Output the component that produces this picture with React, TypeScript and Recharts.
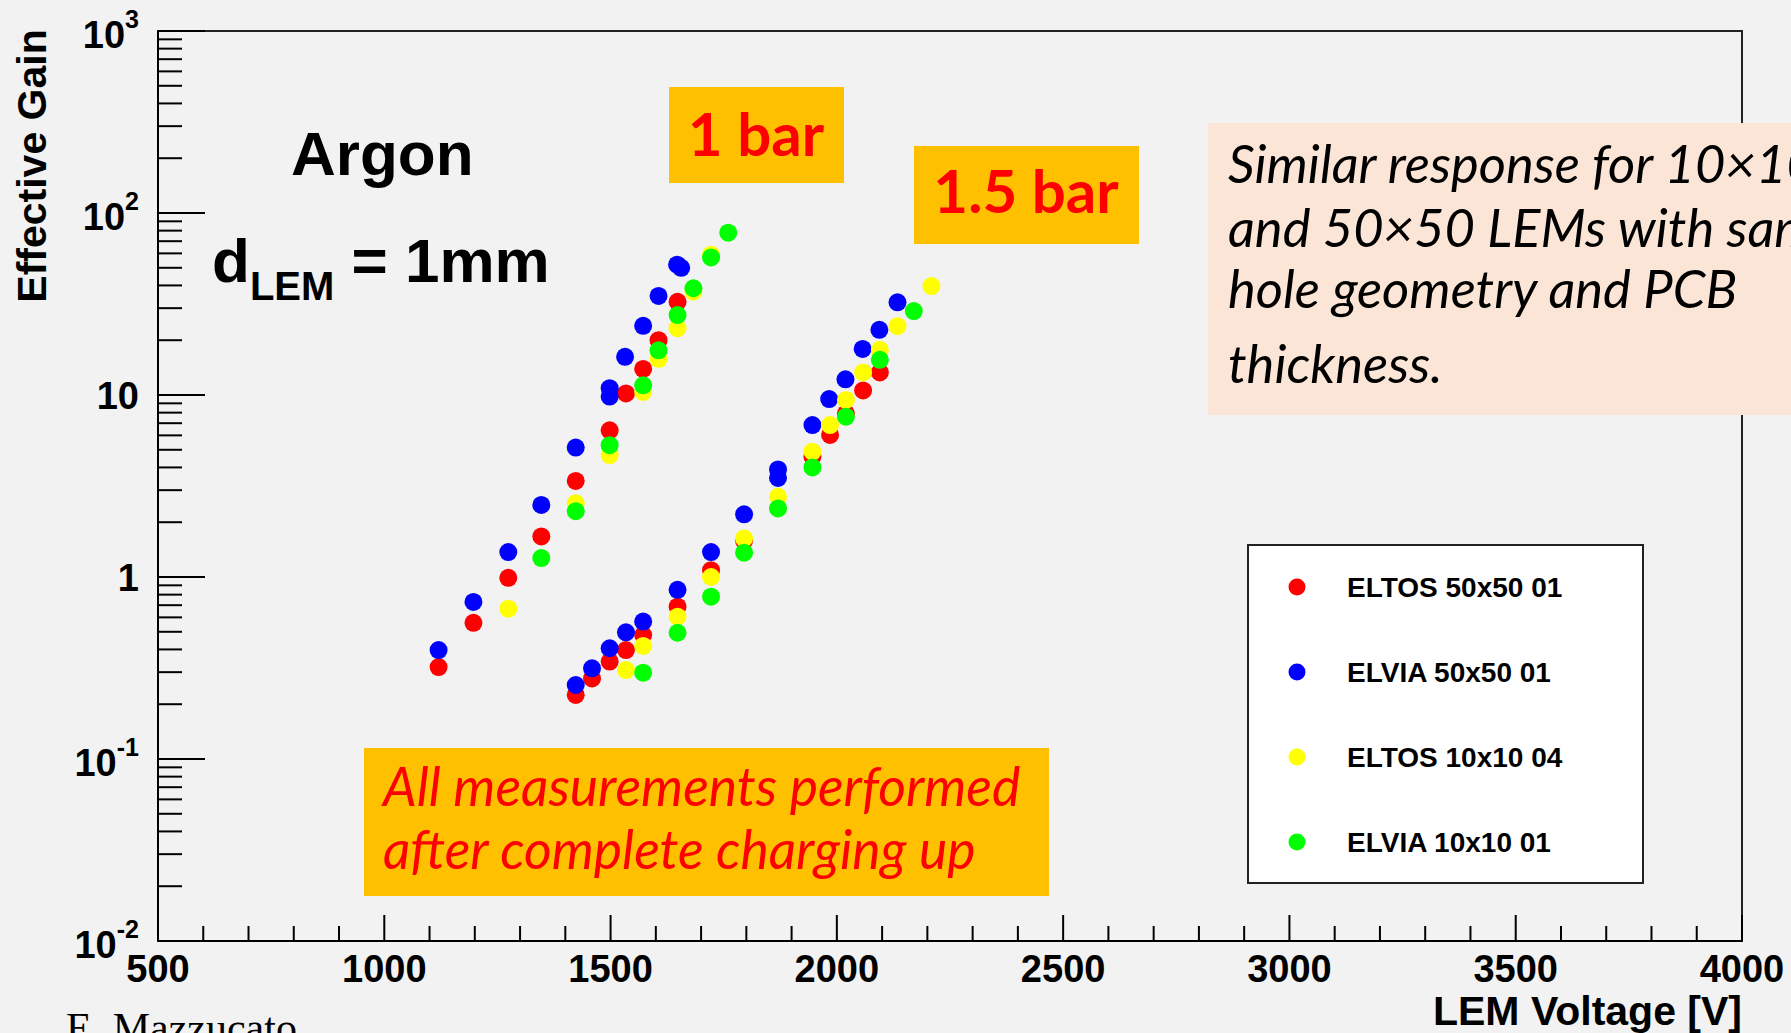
import { ScatterChart, Scatter, XAxis, YAxis, ReferenceArea } from 'recharts';

// LEM voltage [V], effective gain — both pressures (1 bar, then 1.5 bar) per LEM
const eltos5050: [number, number][] = [
  [1120, 0.32], [1197, 0.56], [1274, 0.99], [1347, 1.67], [1423, 3.37], [1498, 6.4], [1534, 10.2], [1572, 13.9], [1606, 20], [1648, 32.5],
  [1423, 0.225], [1459, 0.277], [1498, 0.343], [1534, 0.397], [1572, 0.48], [1648, 0.687], [1722, 1.09], [1795, 1.58], [1946, 4.6], [1985, 6.03], [2020, 7.9], [2058, 10.6], [2095, 13.3],
];
const elvia5050: [number, number][] = [
  [1120, 0.397], [1197, 0.73], [1274, 1.37], [1347, 2.49], [1423, 5.14], [1498, 9.8], [1498, 10.9], [1532, 16.2], [1572, 24], [1606, 35], [1647, 52], [1656, 50],
  [1423, 0.255], [1459, 0.315], [1498, 0.406], [1534, 0.497], [1572, 0.569], [1648, 0.85], [1722, 1.37], [1795, 2.21], [1870, 3.5], [1870, 3.9], [1946, 6.84], [1983, 9.5], [2019, 12.2], [2057, 17.9], [2094, 22.8], [2134, 32.3],
];
const eltos1010: [number, number][] = [
  [1274, 0.67], [1423, 2.54], [1498, 4.68], [1572, 10.4], [1606, 15.8], [1648, 23.3], [1683, 37], [1722, 59],
  [1534, 0.308], [1572, 0.418], [1648, 0.605], [1722, 1.0], [1795, 1.63], [1870, 2.76], [1946, 4.88], [1985, 6.84], [2020, 9.4], [2058, 13.3], [2095, 17.7], [2134, 23.9], [2209, 39.7],
];
const elvia1010: [number, number][] = [
  [1347, 1.27], [1423, 2.3], [1498, 5.3], [1572, 11.3], [1606, 17.6], [1648, 27.5], [1683, 38.6], [1722, 57], [1760, 78],
  [1572, 0.298], [1648, 0.494], [1722, 0.78], [1795, 1.36], [1870, 2.38], [1946, 4.0], [2020, 7.6], [2095, 15.6], [2170, 28.9],
];

const seriesNames = ['ELTOS 50x50 01', 'ELVIA 50x50 01', 'ELTOS 10x10 04', 'ELVIA 10x10 01'];
const seriesColors = ['#ff0000', '#0000ff', '#ffff00', '#00ff00'];
const seriesData = [eltos5050, elvia5050, eltos1010, elvia1010];

const xDomain = [500, 4000];
const xTicks = Array.from({ length: 36 }, (_, i) => 500 + i * 100);
const yDomain = [0.01, 1000];
// decade labels: base + exponent
const yDecades = [-2, -1, 0, 1, 2, 3];
const yDecadeLabels = [
  { base: '10', exp: '-2' },
  { base: '10', exp: '-1' },
  { base: '1', exp: '' },
  { base: '10', exp: '' },
  { base: '10', exp: '2' },
  { base: '10', exp: '3' },
];
const yTicks = yDecades.flatMap((e) =>
  e === 3 ? [1000] : [1, 2, 3, 4, 5, 6, 7, 8, 9].map((m) => m * Math.pow(10, e))
);

const W = 1791;
const H = 1033;
const AXIS_FONT = "'Liberation Sans', Arial, Helvetica, sans-serif";
const NOTE_FONT = "Lato, 'Open Sans', sans-serif";

function XTick({ x, y, payload }: any) {
  const v = payload.value;
  const major = v % 500 === 0;
  return (
    <g>
      <line x1={x} x2={x} y1={y} y2={y - (major ? 26 : 15)} stroke="#000" strokeWidth={2} />
      {major && (
        <text x={x} y={y + 41} textAnchor="middle" fontFamily={AXIS_FONT} fontWeight="bold" fontSize={38} fill="#000">
          {v}
        </text>
      )}
    </g>
  );
}

function YTick({ x, y, payload }: any) {
  const v = payload.value;
  const lg = Math.log10(v);
  const e = Math.round(lg);
  const major = Math.abs(lg - e) < 1e-6;
  const lab = major ? yDecadeLabels[yDecades.indexOf(e)] : null;
  return (
    <g>
      <line x1={x} x2={x + (major ? 47 : 24)} y1={y} y2={y} stroke="#000" strokeWidth={2} />
      {lab && (
        <text
          x={x - 19}
          y={y + (lab.exp ? 17 : 14)}
          textAnchor="end"
          fontFamily={AXIS_FONT}
          fontWeight="bold"
          fontSize={38}
          fill="#000"
        >
          {lab.base}
          {lab.exp && (
            <tspan dy={-20} fontSize={25}>
              {lab.exp}
            </tspan>
          )}
        </text>
      )}
    </g>
  );
}

export default function App() {
  return (
    <div style={{ position: 'fixed', left: 0, top: 0, width: W, height: H, background: '#f2f2f2', overflow: 'hidden' }}>
      <ScatterChart width={W} height={H} margin={{ top: 31, right: 49, bottom: 0, left: 0 }}>
        <XAxis
          type="number"
          dataKey="x"
          domain={xDomain}
          ticks={xTicks}
          interval={0}
          allowDataOverflow
          height={92}
          tickSize={0}
          tickMargin={0}
          tickLine={false}
          axisLine={{ stroke: '#000', strokeWidth: 2 }}
          tick={(p: any) => <XTick {...p} />}
        />
        <YAxis
          type="number"
          dataKey="y"
          scale="log"
          domain={yDomain}
          ticks={yTicks}
          interval={0}
          allowDataOverflow
          width={158}
          tickSize={0}
          tickMargin={0}
          tickLine={false}
          axisLine={{ stroke: '#000', strokeWidth: 2 }}
          tick={(p: any) => <YTick {...p} />}
        />
        <ReferenceArea x1={500} x2={4000} y1={0.01} y2={1000} fill="none" stroke="#222" strokeWidth={2} />
        {seriesData.map((pts, i) => (
          <Scatter
            key={seriesNames[i]}
            name={seriesNames[i]}
            data={pts.map(([x, y]) => ({ x, y }))}
            fill={seriesColors[i]}
            isAnimationActive={false}
            shape={(p: any) => <circle cx={p.cx} cy={p.cy} r={9} fill={seriesColors[i]} />}
          />
        ))}
      </ScatterChart>

      <svg width={W} height={H} style={{ position: 'absolute', left: 0, top: 0, pointerEvents: 'none' }}>
        {/* axis titles */}
        <text x={46} y={166} transform="rotate(-90 46 166)" textAnchor="middle" fontFamily={AXIS_FONT} fontWeight="bold" fontSize={41}>
          Effective Gain
        </text>
        <text x={1742} y={1025} textAnchor="end" fontFamily={AXIS_FONT} fontWeight="bold" fontSize={41}>
          LEM Voltage [V]
        </text>
        <text x={66} y={1042} fontFamily="'Liberation Serif', 'Times New Roman', serif" fontSize={42}>
          E. Mazzucato
        </text>

        {/* gas and gap */}
        <text x={291} y={175} fontFamily={AXIS_FONT} fontWeight="bold" fontSize={62}>
          Argon
        </text>
        <text x={212} y={282} fontFamily={AXIS_FONT} fontWeight="bold" fontSize={62}>
          d
          <tspan dy={18} fontSize={40}>LEM</tspan>
          <tspan dy={-18}> = 1mm</tspan>
        </text>

        {/* pressure tags */}
        <rect x={669} y={87} width={175} height={96} fill="#ffc000" />
        <text x={756} y={156} textAnchor="middle" fontFamily={NOTE_FONT} fontWeight="bold" fontSize={60} fill="#ff0000">
          1 bar
        </text>
        <rect x={914} y={146} width={225} height={98} fill="#ffc000" />
        <text x={1026} y={213} textAnchor="middle" fontFamily={NOTE_FONT} fontWeight="bold" fontSize={60} fill="#ff0000">
          1.5 bar
        </text>

        {/* comment box */}
        <rect x={1208} y={123} width={620} height={292} fill="#fbe5d6" />
        <g fontFamily={NOTE_FONT} fontStyle="italic" fontSize={52.5} fill="#000">
          <text x={1228} y={183}>Similar response for 10×10</text>
          <text x={1228} y={247}>and 50×50 LEMs with same</text>
          <text x={1228} y={308}>hole geometry and PCB</text>
          <text x={1228} y={383}>thickness.</text>
        </g>

        <rect x={364} y={748} width={685} height={148} fill="#ffc000" />
        <g fontFamily={NOTE_FONT} fontStyle="italic" fontSize={53.5} fill="#ff0000">
          <text x={383} y={806}>All measurements performed</text>
          <text x={383} y={869}>after complete charging up</text>
        </g>

        {/* legend */}
        <rect x={1248} y={545} width={395} height={338} fill="#fff" stroke="#222" strokeWidth={2} />
        {seriesNames.map((n, i) => (
          <g key={n}>
            <circle cx={1297} cy={587 + i * 85} r={8.5} fill={seriesColors[i]} />
            <text x={1347} y={597 + i * 85} fontFamily={AXIS_FONT} fontWeight="bold" fontSize={28} fill="#000">
              {n}
            </text>
          </g>
        ))}
      </svg>
    </div>
  );
}
